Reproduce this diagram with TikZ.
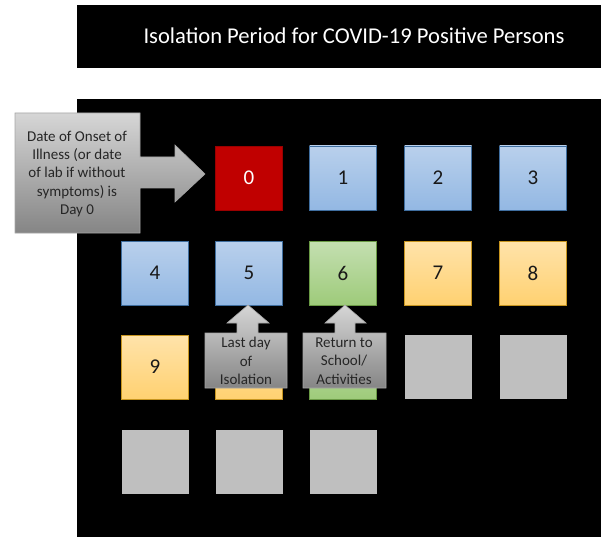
\documentclass[tikz,border=0pt]{standalone}
\usepackage{fontspec}
\setmainfont{Carlito}

\definecolor{dayred}{HTML}{C00000}
\definecolor{bluetop}{HTML}{B9D0EC}
\definecolor{bluebot}{HTML}{93B8E3}
\definecolor{blueline}{HTML}{3F6E9F}
\definecolor{greentop}{HTML}{C4DFB1}
\definecolor{greenbot}{HTML}{9ECB7A}
\definecolor{greenline}{HTML}{6A9A45}
\definecolor{yellowtop}{HTML}{FFE3AA}
\definecolor{yellowbot}{HTML}{FFD171}
\definecolor{yellowline}{HTML}{C7951F}
\definecolor{emptygrey}{HTML}{BFBFBF}
\definecolor{calltop}{HTML}{D6D6D6}
\definecolor{callbot}{HTML}{858585}

\tikzset{
  day/.style={minimum width=67pt,minimum height=64pt,inner sep=0pt,line width=0.8pt,
              font=\fontsize{21}{25}\selectfont,text=black!90},
  redday/.style={day,fill=dayred,draw=dayred!80!black,text=white},
  blueday/.style={day,top color=bluetop,bottom color=bluebot,draw=blueline},
  greenday/.style={day,top color=greentop,bottom color=greenbot,draw=greenline},
  yellowday/.style={day,top color=yellowtop,bottom color=yellowbot,draw=yellowline},
  greyday/.style={day,fill=emptygrey},
  callout/.style={top color=calltop,bottom color=callbot,draw=black!35,line width=0.6pt},
  calltext/.style={align=center,inner sep=0pt,text=black!85,font=\fontsize{15}{18.3}\selectfont}
}

\begin{document}
\begin{tikzpicture}[x=1pt,y=-1pt]
	\useasboundingbox (0,0) rectangle (601,537);
	\fill[black] (77,5) rectangle (601,68);
	\node [text=white,font=\fontsize{22.6}{26}\selectfont] (title) at (354,36) {Isolation Period for COVID-19 Positive Persons};
	\fill[black] (77,99) rectangle (601,537);

	% first row
	\node [redday] (d0) at (249,178) {0};
	\node [blueday] (d1) at (343,178) {1};
	\node [blueday] (d2) at (438,178) {2};
	\node [blueday] (d3) at (533,178) {3};
	% second row
	\node [blueday] (d4) at (155,273) {4};
	\node [blueday] (d5) at (249,273) {5};
	\node [greenday] (d6) at (343,273) {6};
	\node [yellowday] (d7) at (438,273) {7};
	\node [yellowday] (d8) at (533,273) {8};
	% third row
	\node [yellowday] (d9) at (155,367) {9};
	\node [yellowday] (d10) at (249,367) {};
	\node [greenday] (d11) at (343,367) {};
	\node [greyday] (d12) at (438,367) {};
	\node [greyday] (d13) at (533,367) {};
	% fourth row
	\node [greyday] (d14) at (155,462) {};
	\node [greyday] (d15) at (249,462) {};
	\node [greyday] (d16) at (343,462) {};

	% callouts
	\draw[callout] (15,113) -- (140,113) -- (140,157) -- (175,157) -- (175,145) -- (205,174)
		-- (175,202) -- (175,188) -- (140,188) -- (140,233) -- (15,233) -- cycle;
	\node [calltext] (onset) at (77,174) {Date of Onset of\\Illness (or date\\of lab if without\\symptoms) is\\Day 0};
	\draw[callout] (205,333) -- (237,333) -- (237,323) -- (227,323) -- (248,305) -- (269,323)
		-- (258,323) -- (258,333) -- (287,333) -- (287,388) -- (205,388) -- cycle;
	\node [calltext] (lastday) at (246,361) {Last day\\of\\Isolation};
	\draw[callout] (303,333) -- (335,333) -- (335,323) -- (325,323) -- (345,305) -- (366,323)
		-- (355,323) -- (355,333) -- (386,333) -- (386,388) -- (303,388) -- cycle;
	\node [calltext] (return) at (344,361) {Return to\\School/\\Activities};
\end{tikzpicture}
\end{document}
